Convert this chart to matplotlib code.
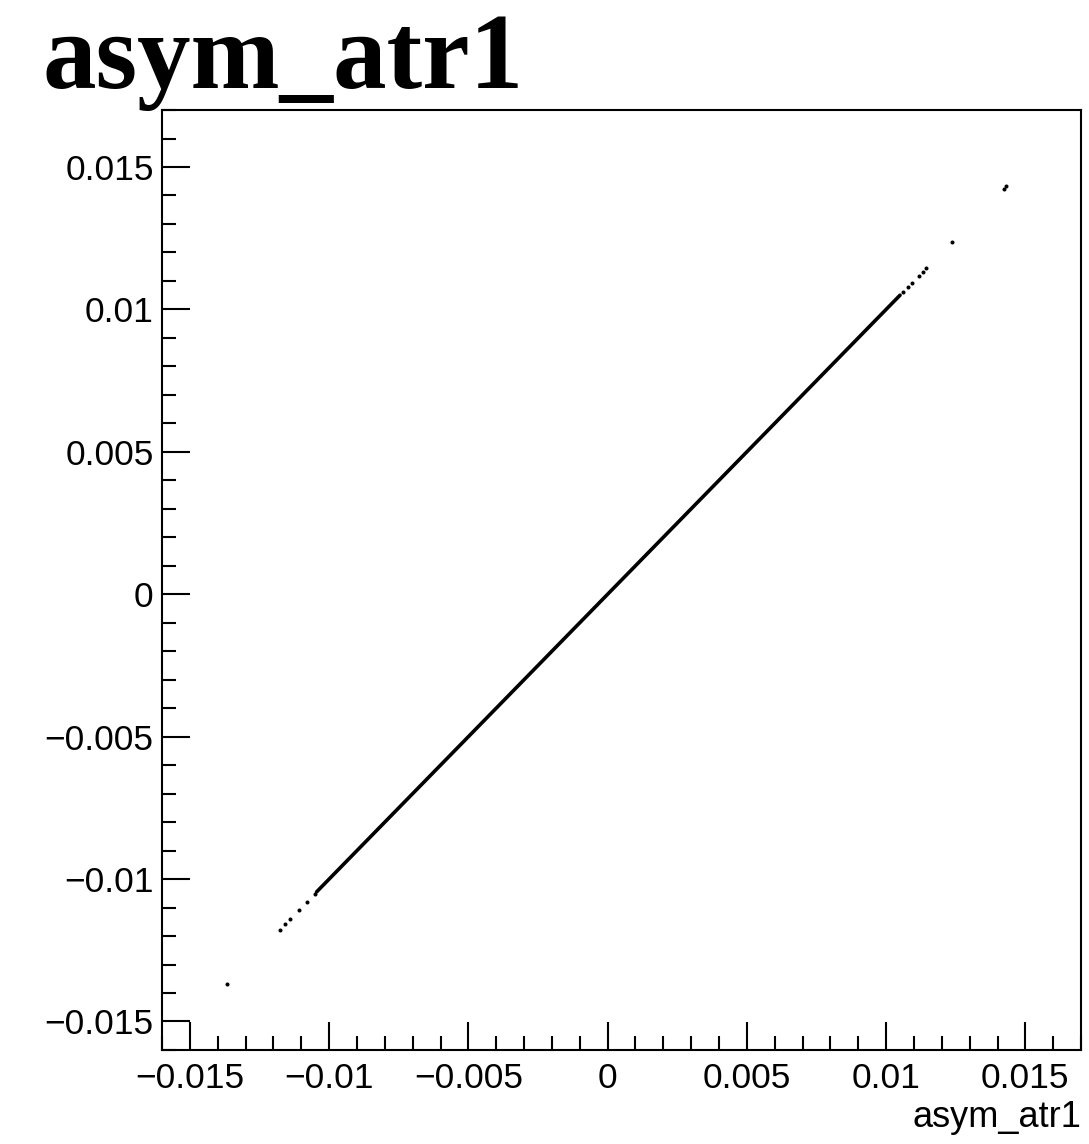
import numpy as np
import matplotlib
matplotlib.use("Agg")
import matplotlib.pyplot as plt
from matplotlib.ticker import MultipleLocator, FuncFormatter

# ---------------------------------------------------------
# data (asym_atr1 drawn against itself)
# ---------------------------------------------------------
band_x = [-0.01045, 0.01050]          # ends of the dense band of entries
low_tail = [-0.01368, -0.01178, -0.01157, -0.01139, -0.01109, -0.01079, -0.01052]
high_tail = [0.01062, 0.01078, 0.01092, 0.01118, 0.01133, 0.01145, 0.01235, 0.01424, 0.01432]

x_ticks = [-0.015, -0.01, -0.005, 0, 0.005, 0.01, 0.015]
x_range = (-0.016, 0.017)
y_range = (-0.016, 0.017)

title = "asym_atr1"
x_title = "asym_atr1"


def root_label(v, pos):
    # ROOT style: 0.01 rather than 0.010, plain 0
    if abs(v) < 1e-12:
        return "0"
    s = ("%.3f" % v).rstrip("0")
    return s.replace("-", "\u2212")


fig = plt.figure(figsize=(10.89, 11.44), dpi=100)
ax = fig.add_axes([0.1488, 0.0822, 0.8439, 0.8216])

# dense band, then the sparse points at both ends
ax.plot(band_x, band_x, color="black", lw=2.6, solid_capstyle="round")
ax.plot(low_tail, low_tail, "o", color="black", ms=2.9, mew=0)
ax.plot(high_tail, high_tail, "o", color="black", ms=2.9, mew=0)

ax.set_xlim(*x_range)
ax.set_ylim(*y_range)

for a in (ax.xaxis, ax.yaxis):
    a.set_major_locator(MultipleLocator(0.005))
    a.set_minor_locator(MultipleLocator(0.001))
    a.set_major_formatter(FuncFormatter(root_label))

ax.tick_params(which="both", direction="in", top=False, right=False, width=1.5)
ax.tick_params(which="major", length=20)
ax.tick_params(which="minor", length=10)
ax.tick_params(axis="x", which="major", pad=9, labelsize=25.5)
ax.tick_params(axis="y", which="major", pad=6, labelsize=25.5)
for lab in ax.get_xticklabels() + ax.get_yticklabels():
    lab.set_family("Liberation Sans")

for sp in ax.spines.values():
    sp.set_linewidth(1.5)

fig.text(42 / 1089, 1 - 88 / 1144, title, family="Liberation Serif",
         weight="bold", fontsize=77, ha="left", va="baseline")
fig.text(1081 / 1089, 1 - 1127 / 1144, x_title, family="Liberation Sans",
         fontsize=26, ha="right", va="baseline")

plt.savefig("out.png", dpi=100)
